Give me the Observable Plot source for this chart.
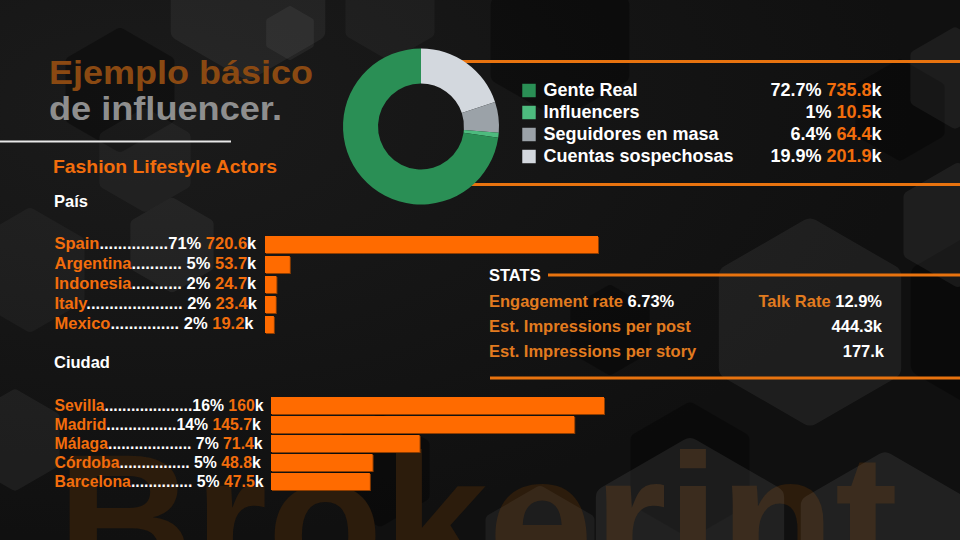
<!DOCTYPE html>
<html>
<head>
<meta charset="utf-8">
<script src="https://cdn.jsdelivr.net/npm/d3@7"></script>
<script src="https://cdn.jsdelivr.net/npm/@observablehq/plot@0.6"></script>
<style>
html,body{margin:0;padding:0;background:#121212;}
#root{position:relative;width:960px;height:540px;overflow:hidden;background:#121212;}
#root svg{position:absolute;left:0;top:0;overflow:visible;}
</style>
</head>
<body>
<div id="root"></div>
<script>
// ---------------- DATA ----------------
const audienceNames = ["Gente Real", "Influencers", "Seguidores en masa", "Cuentas sospechosas"];
const audiencePct = [72.7, 1, 6.4, 19.9];
const audienceValues = [735.8, 10.5, 64.4, 201.9];

const countries = ["Spain", "Argentina", "Indonesia", "Italy", "Mexico"];
const countryPct = [71, 5, 2, 2, 2];
const countryValues = [720.6, 53.7, 24.7, 23.4, 19.2];

const cities = ["Sevilla", "Madrid", "Málaga", "Córdoba", "Barcelona"];
const cityPct = [16, 14, 7, 5, 5];
const cityValues = [160, 145.7, 71.4, 48.8, 47.5];

const statLabels = ["Engagement rate", "Est. Impressions per post", "Est. Impressions per story"];
const statValues = ["6.73%", "444.3k", "177.k"];
const talkRateLabel = "Talk Rate";
const talkRateValue = "12.9%";

const titleLine1 = "Ejemplo básico";
const titleLine2 = "de influencer.";
const subtitle = "Fashion Lifestyle Actors";
const watermark = "Brokerint";

// ---------------- STYLE ----------------
const FONT = '"Liberation Sans", Arial, Helvetica, sans-serif';
const audienceColors = ["#2a8f55", "#4dbb7e", "#9ba2a8", "#d3d8de"];
const C = {o: "#f26d0c", w: "#ffffff", s: "#e27b1f"};
const BAR = "#ff6b00", BAR_SHADOW = "#8f3d00", LINE = "#e8730f";

const root = d3.select("#root");
const ctx = document.createElement("canvas").getContext("2d");
function measure(s, size) { ctx.font = `bold ${size}px ${FONT}`; return ctx.measureText(s).width; }

function leaderLabel(name, pct, value, size, width) {
  const tail = (pct < 10 ? " " : "") + pct + "% ";
  const full = n => name + ".".repeat(n) + tail + value + "k";
  let n = 1;
  while (measure(full(n + 1), size) <= width) n++;
  return ["o" + name, "w" + ".".repeat(n) + tail, "o" + value, "wk"].join("|");
}
function colorize(svg) {
  d3.select(svg).selectAll("text").each(function () {
    const t = this.textContent;
    if (!t.includes("|")) return;
    const sel = d3.select(this);
    sel.text(null);
    t.split("|").forEach(seg => sel.append("tspan").attr("fill", C[seg[0]]).text(seg.slice(1)));
  });
  return svg;
}

// ---------------- BACKGROUND ----------------
const bg = root.append("svg").attr("width", 960).attr("height", 540);
const defs = bg.append("defs");
const rg = defs.append("radialGradient").attr("id", "bgGrad").attr("cx", "0.15").attr("cy", "0.2").attr("r", "0.8");
rg.append("stop").attr("offset", "0").attr("stop-color", "#1b1b1b");
rg.append("stop").attr("offset", "1").attr("stop-color", "#101010");
bg.append("rect").attr("width", 960).attr("height", 540).attr("fill", "url(#bgGrad)");

function hex(cx, cy, r) {
  return d3.range(6).map(k => {
    const a = (-90 + 60 * k) * Math.PI / 180;
    return [cx + r * Math.cos(a), cy + r * Math.sin(a)];
  });
}
function drawHex(sel, cx, cy, r, op, col) {
  sel.append("g").attr("opacity", op)
    .append("polygon").attr("points", hex(cx, cy, r).join(" "))
    .attr("fill", col).attr("stroke", col).attr("stroke-width", r * 0.25).attr("stroke-linejoin", "round");
}
// dark hexes
[[560, 40, 70], [120, 90, 55], [690, 470, 60], [380, 470, 50], [610, 330, 40], [1000, 320, 90], [900, 110, 45]]
  .forEach(([x, y, r]) => drawHex(bg, x, y, r, 0.35, "#000"));

// watermark
bg.append("text").text(watermark)
  .attr("x", 57).attr("y", 586).attr("font-family", FONT).attr("font-weight", "bold")
  .attr("font-size", 190).attr("fill", "#2c1c0c")
  .attr("textLength", 841).attr("lengthAdjust", "spacingAndGlyphs");

// light hexes
[[248, -8, 78, 0.05], [290, 33, 24, 0.05], [145, 160, 46, 0.035], [172, 245, 42, 0.05],
 [810, 322, 92, 0.06], [958, 225, 55, 0.06], [955, 78, 45, 0.05], [690, 545, 95, 0.07],
 [885, 548, 85, 0.07], [540, 548, 55, 0.05], [15, 440, 45, 0.05], [30, 270, 55, 0.03],
 [390, 10, 45, 0.03]]
  .forEach(([x, y, r, op]) => drawHex(bg, x, y, r, op, "#fff"));

// title block
function txt(s, x, y, size, fill, opts = {}) {
  const t = bg.append("text").text(s).attr("x", x).attr("y", y)
    .attr("font-family", FONT).attr("font-weight", "bold").attr("font-size", size).attr("fill", fill);
  if (opts.anchor) t.attr("text-anchor", opts.anchor);
  if (opts.len) t.attr("textLength", opts.len).attr("lengthAdjust", "spacingAndGlyphs");
  return t;
}
txt(titleLine1, 49, 84, 34, "#8a4912", {len: 264});
txt(titleLine2, 49, 120, 34, "#8e8e8e", {len: 233});
bg.append("rect").attr("x", 0).attr("y", 140.5).attr("width", 231).attr("height", 2).attr("fill", "#e8e8e8");
txt(subtitle, 53, 172.5, 19, C.o, {len: 224});
txt("País", 54, 207, 16.5, "#fff");
txt("Ciudad", 54, 368, 16.5, "#fff");

// orange frame lines for donut block
bg.append("rect").attr("x", 420).attr("y", 60).attr("width", 540).attr("height", 3).attr("fill", LINE);
bg.append("rect").attr("x", 420).attr("y", 183).attr("width", 540).attr("height", 3).attr("fill", LINE);

// stats block
txt("STATS", 489, 281, 16.5, "#fff");
bg.append("rect").attr("x", 548).attr("y", 273.5).attr("width", 412).attr("height", 3).attr("fill", LINE);
bg.append("rect").attr("x", 490).attr("y", 376.5).attr("width", 470).attr("height", 3).attr("fill", LINE);
const statY = [306.5, 331.5, 356.5];
statLabels.forEach((lab, i) => {
  const t = txt(lab, 489, statY[i], 16.5, C.s);
  if (i === 0) t.append("tspan").attr("fill", "#fff").text(" " + statValues[0]);
});
const tr = txt(talkRateLabel + " ", 882, statY[0], 16.5, C.s, {anchor: "end"});
tr.append("tspan").attr("fill", "#fff").text(talkRateValue);
txt(statValues[1], 882, statY[1], 16.5, "#fff", {anchor: "end"});
txt(statValues[2], 884, statY[2], 16.5, "#fff", {anchor: "end"});

// ---------------- CHARTS ----------------
const baseStyle = {background: "transparent", overflow: "visible", position: "absolute", left: "0px", top: "0px"};
const ROW = 16.5, ROW_CITY = 15.8;

// País
const countryData = countries.map((name, i) => ({name, pct: countryPct[i], value: countryValues[i]}));
const pais = Plot.plot({
  width: 960, height: 540, margin: 0, style: baseStyle,
  x: {domain: [0, d3.max(countryValues)], range: [265, 598], axis: null},
  y: {domain: countries, range: [234, 334], paddingInner: 0.15, paddingOuter: 0.075, axis: null},
  marks: [
    Plot.barX(countryData, {x: "value", y: "name", fill: BAR_SHADOW, dx: 1, dy: 1}),
    Plot.barX(countryData, {x: "value", y: "name", fill: BAR}),
    Plot.text(countryData, {
      y: "name", text: d => leaderLabel(d.name, d.pct, d.value, ROW, 203),
      frameAnchor: "left", dx: 54, dy: -1, textAnchor: "start",
      fill: "white", fontSize: ROW, fontWeight: "bold", fontFamily: FONT
    })
  ]
});
root.node().appendChild(colorize(pais));

// Ciudad
const cityData = cities.map((name, i) => ({name, pct: cityPct[i], value: cityValues[i]}));
const ciudad = Plot.plot({
  width: 960, height: 540, margin: 0, style: baseStyle,
  x: {domain: [0, d3.max(cityValues)], range: [271, 604], axis: null},
  y: {domain: cities, range: [396, 491], paddingInner: 0.08, paddingOuter: 0.04, axis: null},
  marks: [
    Plot.barX(cityData, {x: "value", y: "name", fill: BAR_SHADOW, dx: 1, dy: 1}),
    Plot.barX(cityData, {x: "value", y: "name", fill: BAR}),
    Plot.text(cityData, {
      y: "name", text: d => leaderLabel(d.name, d.pct, d.value, ROW_CITY, 209),
      frameAnchor: "left", dx: 54, dy: -0.5, textAnchor: "start",
      fill: "white", fontSize: ROW_CITY, fontWeight: "bold", fontFamily: FONT
    })
  ]
});
root.node().appendChild(colorize(ciudad));

// Donut + legend
const audData = audienceNames.map((name, i) => ({name, pct: audiencePct[i], value: audienceValues[i]}));
function donutMark(index, scales) {
  const color = (scales && scales.color) ? scales.color : d3.scaleOrdinal(audienceNames, audienceColors);
  const order = d3.range(audienceNames.length).reverse();
  const arcs = d3.pie().sort(null).value(i => audiencePct[i])(order);
  const arc = d3.arc().innerRadius(43).outerRadius(78);
  const g = d3.create("svg:g").attr("transform", "translate(421,126.5)");
  g.selectAll("path").data(arcs).join("path")
    .attr("d", arc).attr("fill", d => color(audienceNames[d.data]));
  return g.node();
}
const donut = Plot.plot({
  width: 960, height: 540, margin: 0, style: baseStyle,
  y: {domain: audienceNames, range: [78.9, 167.7], axis: null},
  color: {domain: audienceNames, range: audienceColors},
  marks: [
    donutMark,
    Plot.dot(audData, {y: "name", fill: "name", symbol: "square", r: 7.6, frameAnchor: "left", dx: 528.5}),
    Plot.text(audData, {
      y: "name", text: "name", frameAnchor: "left", dx: 543, textAnchor: "start",
      fill: "white", fontSize: 18, fontWeight: "bold", fontFamily: FONT
    }),
    Plot.text(audData, {
      y: "name", text: d => ["w" + d.pct + "% ", "o" + d.value, "wk"].join("|"),
      frameAnchor: "left", dx: 881, textAnchor: "end",
      fill: "white", fontSize: 18, fontWeight: "bold", fontFamily: FONT
    })
  ]
});
root.node().appendChild(colorize(donut));
</script>
</body>
</html>
